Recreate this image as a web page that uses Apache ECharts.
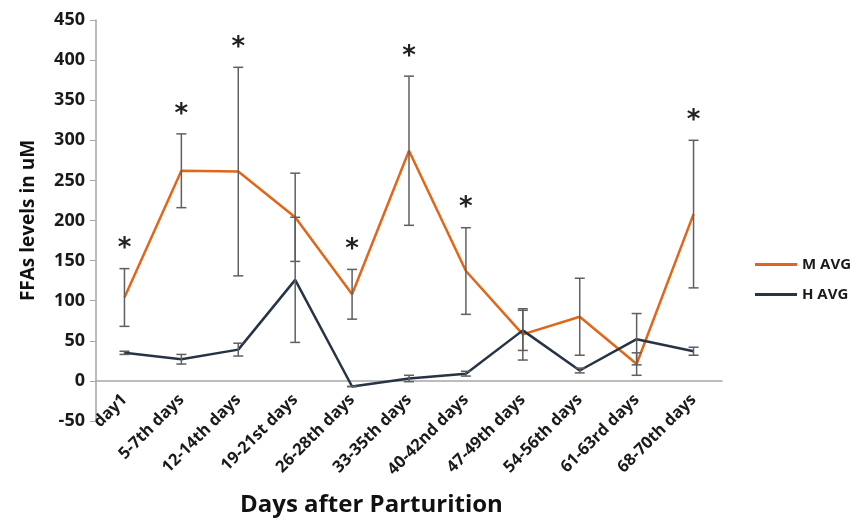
<!DOCTYPE html>
<html lang="en">
	<head>
		<meta charset="UTF-8">
		<title>FFAs levels</title>
		<script src="https://cdn.jsdelivr.net/npm/echarts@6/dist/echarts.min.js"></script>
		<style>
			body { margin: 0; background: #fff; }
			#main { width: 859px; height: 518px; }
		</style>
	</head>

	<body>
		<div id="main"></div>
	</body>

	<script>
		let days = ["day1", "5-7th days", "12-14th days", "19-21st days", "26-28th days", "33-35th days",
			"40-42nd days", "47-49th days", "54-56th days", "61-63rd days", "68-70th days"];
		let mAvg = [104, 262, 261, 204, 108, 287, 137, 58, 80, 21, 208];
		let mErr = [36, 46, 130, 55, 31, 93, 54, 32, 48, 14, 92];
		let hAvg = [35, 27, 39, 126, -7, 3, 9, 63, 13, 52, 37];
		let hErr = [2, 6, 8, 78, 0, 4, 3, 25, 3, 32, 5];
		let signif = [1, 1, 1, 0, 1, 1, 1, 0, 0, 0, 1];

		let orange = "#E0661A";
		let navy = "#273445";

		function errorData(avg, err) {
			return avg.map((v, i) => [i, v - err[i], v + err[i], signif[i]]);
		}

		function renderError(withStar) {
			return function (params, api) {
				let x = api.coord([api.value(0), 0])[0];
				let lo = api.coord([api.value(0), api.value(1)])[1];
				let hi = api.coord([api.value(0), api.value(2)])[1];
				let st = { stroke: "#5f5f5f", lineWidth: 1.5 };
				let kids = [
					{ type: "line", shape: { x1: x, y1: lo, x2: x, y2: hi }, style: st },
					{ type: "line", shape: { x1: x - 5, y1: lo, x2: x + 5, y2: lo }, style: st },
					{ type: "line", shape: { x1: x - 5, y1: hi, x2: x + 5, y2: hi }, style: st }
				];
				if (withStar && api.value(3) === 1) {
					kids.push({
						type: "text",
						style: {
							text: "*", x: x, y: hi - 6,
							align: "center", verticalAlign: "bottom",
							font: "bold 26px 'DejaVu Sans'", fill: "#222"
						}
					});
				}
				return { type: "group", children: kids };
			};
		}

		let option = {
			animation: false,
			grid: { left: 96, right: 137, top: 20, bottom: 97 },
			legend: {
				orient: "vertical",
				left: 750,
				top: 252,
				itemWidth: 42,
				itemHeight: 3,
				itemGap: 15,
				icon: "rect",
				data: ["M AVG", "H AVG"],
				textStyle: { fontFamily: "Open Sans", fontWeight: "bold", fontSize: 15, color: "#1a1a1a" }
			},
			title: {
				text: "Days after Parturition",
				left: 235,
				top: 488,
				textStyle: { fontFamily: "Open Sans", fontWeight: "bold", fontSize: 24, color: "#111" }
			},
			xAxis: {
				type: "category",
				data: days,
				axisLine: { lineStyle: { color: "#a6a6a6", width: 1.5 } },
				axisTick: { length: 6, lineStyle: { color: "#a6a6a6" } },
				axisLabel: {
					rotate: 45, margin: -24, interval: 0,
					fontFamily: "Open Sans", fontWeight: "bold", fontSize: 16.5, color: "#1a1a1a"
				}
			},
			yAxis: {
				type: "value",
				min: -50,
				max: 450,
				interval: 50,
				name: "FFAs levels in uM",
				nameLocation: "middle",
				nameGap: 58,
				nameTextStyle: { fontFamily: "Open Sans", fontWeight: "bold", fontSize: 19, color: "#111" },
				splitLine: { show: false },
				axisLine: { show: true, lineStyle: { color: "#a6a6a6", width: 1.5 } },
				axisTick: { show: true, length: 6, lineStyle: { color: "#a6a6a6" } },
				axisLabel: { fontFamily: "Open Sans", fontWeight: "bold", fontSize: 18, color: "#1a1a1a", margin: 11 }
			},
			series: [
				{
					name: "M AVG",
					type: "line",
					data: mAvg,
					symbol: "none",
					lineStyle: { color: orange, width: 2.5 },
					itemStyle: { color: orange },
					z: 3
				},
				{
					name: "H AVG",
					type: "line",
					data: hAvg,
					symbol: "none",
					lineStyle: { color: navy, width: 2.5 },
					itemStyle: { color: navy },
					z: 3
				},
				{
					type: "custom",
					data: errorData(mAvg, mErr),
					renderItem: renderError(true),
					z: 4
				},
				{
					type: "custom",
					data: errorData(hAvg, hErr),
					renderItem: renderError(false),
					z: 4
				}
			]
		};

		let chart = echarts.init(document.getElementById("main"));
		chart.setOption(option);
	</script>
</html>
